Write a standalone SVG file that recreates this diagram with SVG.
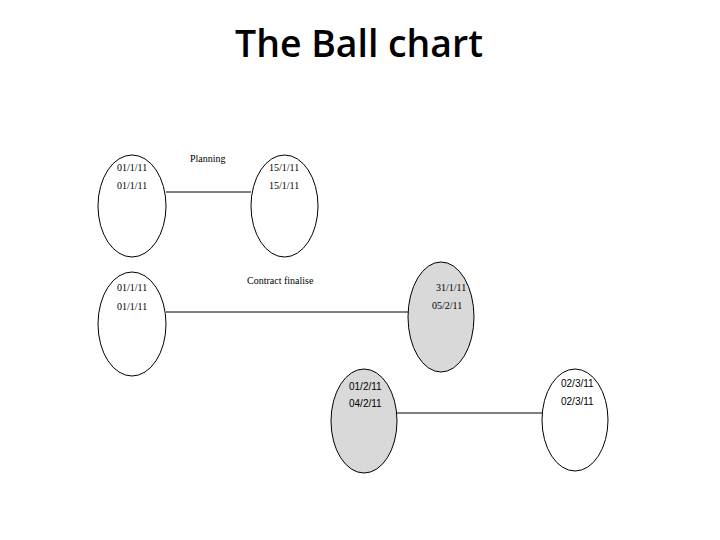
<svg xmlns="http://www.w3.org/2000/svg" width="720" height="540" viewBox="0 0 720 540">
<style>
.ball{stroke:#000;stroke-width:1;fill:#fff}
.done{fill:#d9d9d9}
.s{font-family:"Liberation Serif",serif;font-size:10px;fill:#000}
.a{font-family:"Liberation Sans",Arial,sans-serif;font-size:10px;fill:#000}
.t{font-family:"Open Sans","Liberation Sans",sans-serif;font-weight:600;font-size:38px;fill:#000}
line{stroke:#000;stroke-width:1}
</style>
<rect width="720" height="540" fill="#fff"/>
<text class="t" x="359" y="57" text-anchor="middle" textLength="248" lengthAdjust="spacingAndGlyphs">The Ball chart</text>
<g id="connectors">
<line x1="166" y1="192" x2="251" y2="192"/>
<line x1="166" y1="312" x2="408" y2="312"/>
<line x1="397" y1="413" x2="542" y2="413"/>
</g>
<g id="labels">
<text class="s" x="190" y="162">Planning</text>
<text class="s" x="247" y="284">Contract finalise</text>
</g>
<g id="ball1">
<ellipse class="ball" cx="132" cy="206" rx="34" ry="51"/>
<text class="s" x="117" y="171">01/1/11</text>
<text class="s" x="117" y="189">01/1/11</text>
</g>
<g id="ball2">
<ellipse class="ball" cx="284.5" cy="206" rx="33.5" ry="51"/>
<text class="s" x="269" y="171">15/1/11</text>
<text class="s" x="269" y="189">15/1/11</text>
</g>
<g id="ball3">
<ellipse class="ball" cx="132" cy="324" rx="34" ry="52"/>
<text class="s" x="117" y="291">01/1/11</text>
<text class="s" x="117" y="310">01/1/11</text>
</g>
<g id="ball4">
<ellipse class="ball done" cx="441" cy="317" rx="33" ry="55"/>
<text class="s" x="436" y="291">31/1/11</text>
<text class="s" x="432" y="309">05/2/11</text>
</g>
<g id="ball5">
<ellipse class="ball done" cx="364" cy="421" rx="33" ry="52"/>
<text class="a" x="349" y="390">01/2/11</text>
<text class="a" x="349" y="407">04/2/11</text>
</g>
<g id="ball6">
<ellipse class="ball" cx="575" cy="420" rx="33" ry="51"/>
<text class="a" x="561" y="387">02/3/11</text>
<text class="a" x="561" y="405">02/3/11</text>
</g>
</svg>
